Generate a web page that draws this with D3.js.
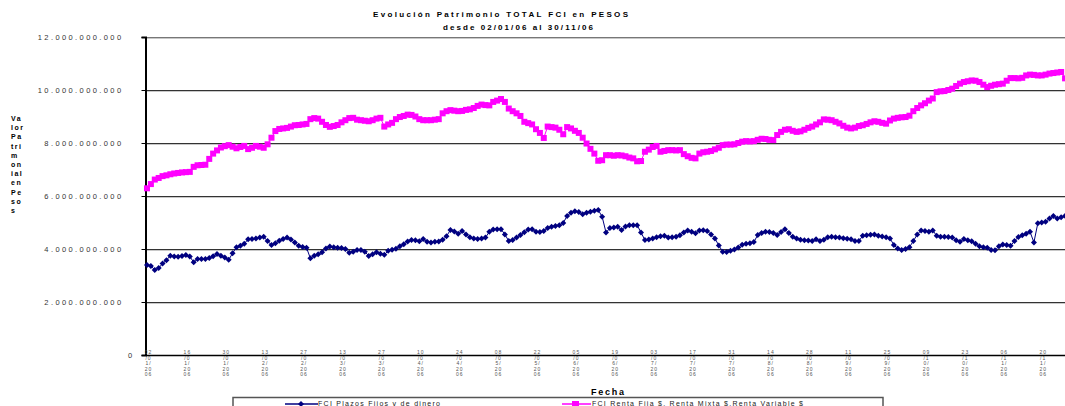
<!DOCTYPE html>
<html>
<head>
<meta charset="utf-8">
<script src="https://cdn.jsdelivr.net/npm/d3@7"></script>
<style>
  body { margin: 0; background: #fff; }
  svg { display: block; font-family: "Liberation Sans", Arial, sans-serif; }
</style>
</head>
<body>
<svg id="chart"></svg>
<script>
// valores en miles de millones de pesos, un valor por dia habil (filas de 10)
const plazosFijos = [
  3.40, 3.36, 3.21, 3.28, 3.45, 3.58, 3.75, 3.72, 3.71, 3.74,
  3.77, 3.72, 3.50, 3.62, 3.62, 3.62, 3.66, 3.73, 3.81, 3.75,
  3.68, 3.59, 3.84, 4.07, 4.12, 4.20, 4.37, 4.38, 4.40, 4.43,
  4.46, 4.30, 4.15, 4.22, 4.31, 4.38, 4.43, 4.36, 4.25, 4.12,
  4.08, 4.05, 3.65, 3.75, 3.80, 3.88, 4.02, 4.09, 4.07, 4.05,
  4.04, 4.00, 3.86, 3.90, 3.96, 3.96, 3.90, 3.74, 3.80, 3.88,
  3.82, 3.78, 3.93, 3.97, 4.01, 4.10, 4.18, 4.28, 4.34, 4.33,
  4.29, 4.38, 4.27, 4.25, 4.27, 4.28, 4.35, 4.48, 4.72, 4.66,
  4.58, 4.68, 4.55, 4.44, 4.40, 4.38, 4.40, 4.43, 4.65, 4.74,
  4.75, 4.75, 4.55, 4.30, 4.34, 4.43, 4.53, 4.63, 4.74, 4.75,
  4.65, 4.64, 4.68, 4.79, 4.84, 4.87, 4.90, 4.98, 5.25, 5.37,
  5.42, 5.40, 5.31, 5.37, 5.41, 5.44, 5.47, 5.22, 4.62, 4.79,
  4.81, 4.84, 4.72, 4.85, 4.90, 4.90, 4.90, 4.62, 4.34, 4.36,
  4.40, 4.44, 4.48, 4.50, 4.43, 4.44, 4.46, 4.52, 4.62, 4.70,
  4.65, 4.59, 4.70, 4.71, 4.68, 4.55, 4.40, 4.13, 3.90, 3.89,
  3.93, 3.98, 4.06, 4.16, 4.20, 4.22, 4.26, 4.53, 4.60, 4.65,
  4.64, 4.60, 4.53, 4.64, 4.75, 4.60, 4.46, 4.40, 4.35, 4.33,
  4.32, 4.30, 4.37, 4.30, 4.35, 4.44, 4.46, 4.44, 4.43, 4.41,
  4.39, 4.37, 4.30, 4.30, 4.50, 4.52, 4.54, 4.55, 4.50, 4.47,
  4.44, 4.40, 4.15, 4.02, 3.96, 4.00, 4.07, 4.30, 4.55, 4.70,
  4.68, 4.65, 4.70, 4.50, 4.46, 4.46, 4.45, 4.43, 4.33, 4.27,
  4.38, 4.33, 4.29, 4.20, 4.10, 4.07, 4.05, 3.96, 3.95, 4.10,
  4.17, 4.15, 4.12, 4.30, 4.45, 4.52, 4.58, 4.65, 4.25, 4.97,
  5.00, 5.03, 5.15, 5.25, 5.15, 5.20, 5.25, 5.28, 5.30
];

const rentaFijaMixtaVariable = [
  6.29, 6.45, 6.62, 6.68, 6.75, 6.78, 6.82, 6.85, 6.87, 6.89,
  6.90, 6.91, 7.10, 7.16, 7.17, 7.18, 7.40, 7.60, 7.72, 7.83,
  7.88, 7.92, 7.86, 7.80, 7.85, 7.89, 7.77, 7.82, 7.89, 7.86,
  7.82, 7.95, 8.20, 8.45, 8.53, 8.55, 8.57, 8.62, 8.67, 8.68,
  8.70, 8.72, 8.90, 8.94, 8.92, 8.80, 8.68, 8.61, 8.64, 8.68,
  8.78, 8.86, 8.94, 8.95, 8.88, 8.86, 8.84, 8.82, 8.86, 8.92,
  8.95, 8.62, 8.70, 8.76, 8.90, 8.98, 9.02, 9.07, 9.06, 9.00,
  8.90, 8.86, 8.86, 8.86, 8.88, 8.90, 9.12, 9.20, 9.24, 9.22,
  9.20, 9.21, 9.25, 9.27, 9.32, 9.40, 9.45, 9.43, 9.42, 9.55,
  9.60, 9.66, 9.55, 9.30, 9.20, 9.12, 9.02, 8.80, 8.75, 8.70,
  8.52, 8.38, 8.19, 8.62, 8.60, 8.58, 8.50, 8.33, 8.60, 8.55,
  8.46, 8.38, 8.20, 7.98, 7.78, 7.60, 7.33, 7.35, 7.54, 7.54,
  7.52, 7.54, 7.53, 7.50, 7.45, 7.42, 7.31, 7.32, 7.67, 7.75,
  7.85, 7.89, 7.67, 7.70, 7.73, 7.73, 7.72, 7.73, 7.58, 7.50,
  7.44, 7.42, 7.60, 7.65, 7.67, 7.70, 7.76, 7.82, 7.92, 7.94,
  7.94, 7.95, 8.00, 8.05, 8.07, 8.06, 8.07, 8.12, 8.16, 8.15,
  8.12, 8.11, 8.30, 8.42, 8.50, 8.52, 8.46, 8.42, 8.44, 8.50,
  8.57, 8.62, 8.70, 8.78, 8.89, 8.88, 8.86, 8.80, 8.74, 8.65,
  8.58, 8.55, 8.58, 8.64, 8.67, 8.72, 8.78, 8.82, 8.80, 8.76,
  8.73, 8.85, 8.92, 8.95, 8.97, 8.98, 9.03, 9.20, 9.32, 9.42,
  9.50, 9.60, 9.68, 9.92, 9.95, 9.96, 10.00, 10.05, 10.15, 10.24,
  10.30, 10.33, 10.36, 10.35, 10.30, 10.20, 10.11, 10.16, 10.20, 10.22,
  10.24, 10.35, 10.45, 10.45, 10.44, 10.46, 10.55, 10.58, 10.57, 10.55,
  10.55, 10.58, 10.62, 10.64, 10.66, 10.68, 10.44, 10.40, 10.38
];

const yTicks = [0, 2e9, 4e9, 6e9, 8e9, 10e9, 12e9];
const tickEvery = 10;   // una etiqueta cada 10 dias habiles
const yLabelLines = ["Va", "lor", "Pa", "tri", "m", "on", "ial", "en", "Pe", "so", "s"];
const seriesNames = ["FCI Plazos Fijos y de dinero", "FCI Renta Fija $, Renta Mixta $,Renta Variable $"];

// dias habiles 02/01/2006 .. 30/11/2006
const fechas = [];
for (let d = new Date(2006, 0, 2); d <= new Date(2006, 10, 30); d.setDate(d.getDate() + 1)) {
  if (d.getDay() !== 0 && d.getDay() !== 6) fechas.push(new Date(d));
}
const fmtFecha = d3.timeFormat("%d/%m/%Y");

const width = 1065, height = 406;
const svg = d3.select("#chart").attr("width", width).attr("height", height);

const x = d3.scalePoint()
  .domain(d3.range(fechas.length))
  .range([147, 147 + 3.89 * (fechas.length - 1)]);

const y = d3.scaleLinear().domain([0, 12e9]).range([355, 37]);

const es = d3.formatLocale({ decimal: ",", thousands: ".", grouping: [3], currency: ["$", ""] });
const fmtY = es.format(",");

// lineas de grilla
const grid = svg.append("g");
yTicks.filter(t => t > 0).forEach(t => {
  grid.append("line")
    .attr("x1", 146).attr("x2", width)
    .attr("y1", y(t) + 1.5).attr("y2", y(t) + 1.5)
    .attr("stroke", "#c8c8c8").attr("stroke-width", 1);
  grid.append("line")
    .attr("x1", 146).attr("x2", width)
    .attr("y1", y(t) + 0.5).attr("y2", y(t) + 0.5)
    .attr("stroke", t === 12e9 ? "#777" : "#333").attr("stroke-width", 1);
});

// eje Y
const yAxis = d3.axisLeft(y).tickValues(yTicks).tickSize(4).tickFormat(fmtY);
const gy = svg.append("g").attr("transform", "translate(145.5,0)").call(yAxis);
gy.select(".domain").attr("stroke", "#000").attr("stroke-width", 2);
gy.selectAll(".tick line").attr("stroke", "#000");
gy.selectAll(".tick text")
  .attr("x", -22)
  .attr("font-size", 7.5)
  .attr("fill", "#333")
  .attr("letter-spacing", 2.4)
  .attr("font-family", "Liberation Sans, Arial, sans-serif");
gy.selectAll(".tick").filter(d => d === 0).select("text").attr("x", -11);

// eje X
svg.append("line")
  .attr("x1", 146).attr("x2", width)
  .attr("y1", 355.5).attr("y2", 355.5)
  .attr("stroke", "#000").attr("stroke-width", 1.5);

const xLabels = svg.append("g").attr("fill", "#555").attr("font-size", 5);
d3.range(0, fechas.length, tickEvery).forEach(i => {
  const s = fmtFecha(fechas[i]);
  const chunks = s.match(/.{1,2}/g);
  const t = xLabels.append("text")
    .attr("text-anchor", "middle")
    .attr("letter-spacing", 1);
  chunks.forEach((c, k) => {
    t.append("tspan")
      .attr("x", x(i) + 1.5)
      .attr("y", 354 + k * 5.6)
      .text(c);
  });
});

// series
const line = d3.line()
  .x((d, i) => x(i))
  .y(d => y(d * 1e9));

svg.append("path")
  .datum(plazosFijos)
  .attr("fill", "none")
  .attr("stroke", "#000080")
  .attr("stroke-width", 1)
  .attr("d", line);

svg.append("g").selectAll("path")
  .data(plazosFijos)
  .join("path")
  .attr("d", (d, i) => `M${x(i)},${y(d * 1e9) - 3}l3,3l-3,3l-3,-3z`)
  .attr("fill", "#000080");

svg.append("path")
  .datum(rentaFijaMixtaVariable)
  .attr("fill", "none")
  .attr("stroke", "#ff00ff")
  .attr("stroke-width", 1)
  .attr("d", line);

svg.append("g").selectAll("rect")
  .data(rentaFijaMixtaVariable)
  .join("rect")
  .attr("x", (d, i) => x(i) - 3)
  .attr("y", d => y(d * 1e9) - 3)
  .attr("width", 6)
  .attr("height", 6)
  .attr("fill", "#ff00ff");

// titulos
const title = svg.append("g").attr("font-weight", "bold").attr("font-size", 8).attr("fill", "#000");
title.append("text").attr("x", 373).attr("y", 17)
  .attr("textLength", 255).attr("lengthAdjust", "spacing")
  .text("Evolución Patrimonio TOTAL FCI en PESOS");
title.append("text").attr("x", 443).attr("y", 30)
  .attr("textLength", 150).attr("lengthAdjust", "spacing")
  .text("desde 02/01/06 al 30/11/06");

svg.append("text")
  .attr("x", 591).attr("y", 395)
  .attr("font-weight", "bold").attr("font-size", 9)
  .attr("textLength", 33).attr("lengthAdjust", "spacing")
  .text("Fecha");

const yl = svg.append("text").attr("font-weight", "bold").attr("font-size", 7).attr("letter-spacing", 1.5);
yLabelLines.forEach((s, k) => {
  yl.append("tspan").attr("x", 11).attr("y", 121 + k * 9.2).text(s);
});

// leyenda
const legend = svg.append("g");
legend.append("rect")
  .attr("x", 233).attr("y", 397.5)
  .attr("width", 650).attr("height", 20)
  .attr("fill", "#fff").attr("stroke", "#555").attr("stroke-width", 1.5);

legend.append("line").attr("x1", 285).attr("x2", 318).attr("y1", 404).attr("y2", 404)
  .attr("stroke", "#000080").attr("stroke-width", 1.5);
legend.append("path").attr("d", "M301,401l3,3l-3,3l-3,-3z").attr("fill", "#000080");
legend.append("text").attr("x", 318).attr("y", 406).attr("font-size", 7).attr("fill", "#222")
  .attr("textLength", 122).attr("lengthAdjust", "spacing")
  .text(seriesNames[0]);

legend.append("line").attr("x1", 562).attr("x2", 591).attr("y1", 404).attr("y2", 404)
  .attr("stroke", "#ff00ff").attr("stroke-width", 1.5);
legend.append("rect").attr("x", 572).attr("y", 401).attr("width", 7).attr("height", 6).attr("fill", "#ff00ff");
legend.append("text").attr("x", 592).attr("y", 406).attr("font-size", 7).attr("fill", "#222")
  .attr("textLength", 211).attr("lengthAdjust", "spacing")
  .text(seriesNames[1]);
</script>
</body>
</html>
